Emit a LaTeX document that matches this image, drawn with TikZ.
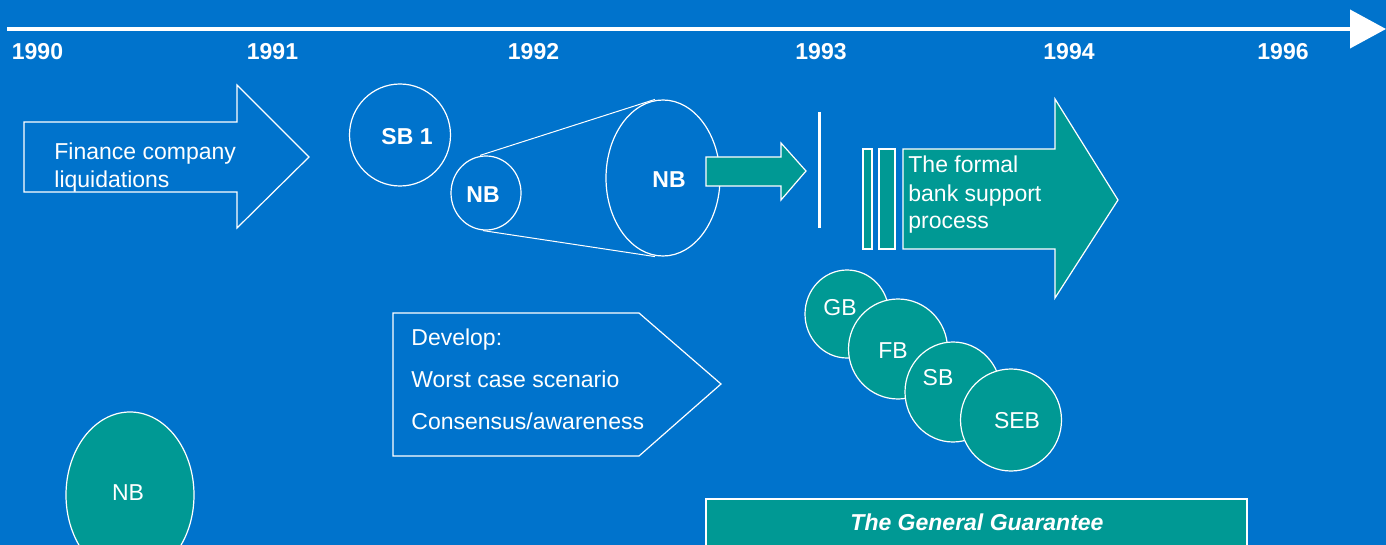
\documentclass[tikz,border=0pt]{standalone}
\usepackage{fontspec}
\setmainfont{Liberation Sans}
\usetikzlibrary{shapes.geometric,arrows.meta}
\definecolor{bgblue}{RGB}{0,115,204}
\definecolor{tealc}{RGB}{0,153,148}
\begin{document}
\begin{tikzpicture}[x=0.5pt,y=-0.5pt,
  txt/.style={text=white, inner sep=0, font=\fontsize{11.5}{14}\selectfont},
  btxt/.style={text=white, inner sep=0, font=\fontsize{11.5}{14}\selectfont\bfseries},
  year/.style={btxt},
  outl/.style={draw=white, line width=0.6pt},
  tealshape/.style={fill=tealc, draw=white, line width=0.6pt},
  oval/.style={ellipse, inner sep=0, draw=white, line width=0.6pt}]
\fill[bgblue] (0,0) rectangle (1386,545);
\useasboundingbox (0,0) rectangle (1386,545);
% timeline
\coordinate (tl0) at (7,29);
\coordinate (tl1) at (1386,29);
\draw[white, line width=2pt, -{Triangle[length=18pt,width=19pt]}] (tl0) -- (tl1);
\node[year] (y1990) at (37.5,51.5) {1990};
\node[year] (y1991) at (272.5,51.5) {1991};
\node[year] (y1992) at (533.5,51.5) {1992};
\node[year] (y1993) at (821,51.5) {1993};
\node[year] (y1994) at (1069,51.5) {1994};
\node[year] (y1996) at (1283,51.5) {1996};
% finance arrow
\draw[outl] (24,122) -- (237,122) -- (237,85) -- (309,157) -- (237,228) -- (237,192) -- (24,192) -- cycle;
\node[txt, anchor=base west] (fc1) at (54,160) {Finance company};
\node[txt, anchor=base west] (fc2) at (54,188) {liquidations};
% SB1 and NB
\node[oval, minimum width=50.5pt, minimum height=51pt] (sb1) at (400,135) {};
\node[btxt] (sb1l) at (407,137) {SB 1};
\node[oval, minimum width=35pt, minimum height=37pt] (nbs) at (486,193) {};
\node[btxt] (nbsl) at (483,195) {NB};
\node[oval, minimum width=57pt, minimum height=78pt] (nbb) at (663,178) {};
\node[btxt] (nbbl) at (669,180) {NB};
\draw[white, line width=0.5pt] ([xshift=-3pt]nbs.north) -- ([xshift=-4pt]nbb.north);
\draw[white, line width=0.5pt] ([xshift=-1.5pt]nbs.south) -- ([xshift=-4pt]nbb.south);
% small teal arrow
\filldraw[tealshape] (706,157) -- (781,157) -- (781,143) -- (806,171) -- (781,200) -- (781,186) -- (706,186) -- cycle;
% vertical line
\coordinate (v0) at (819,112);
\coordinate (v1) at (819,228);
\draw[white, line width=1.5pt] (v0) -- (v1);
% bars and big arrow
\filldraw[tealshape] (863,149) rectangle (872,249);
\filldraw[tealshape] (879,149) rectangle (895,249);
\filldraw[tealshape] (903,149) -- (1055,149) -- (1055,99) -- (1118,200) -- (1055,298) -- (1055,249) -- (903,249) -- cycle;
\node[txt, anchor=base west] (bs1) at (908,173) {The formal};
\node[txt, anchor=base west] (bs2) at (908,202) {bank support};
\node[txt, anchor=base west] (bs3) at (908,229) {process};
% bank circles
\node[oval, fill=tealc, minimum width=42pt, minimum height=44pt] (gb) at (847,314) {};
\node[txt] (gbl) at (840,308) {GB};
\node[oval, fill=tealc, minimum width=49.5pt, minimum height=50pt] (fb) at (898,349) {};
\node[txt] (fbl) at (893,351) {FB};
\node[oval, fill=tealc, minimum width=48pt, minimum height=50pt] (sb) at (953,392) {};
\node[txt] (sbl) at (938,378) {SB};
\node[oval, fill=tealc, minimum width=50.5pt, minimum height=51pt] (seb) at (1011,420) {};
\node[txt] (sebl) at (1017,421) {SEB};
% develop box
\draw[outl] (393,313) -- (639,313) -- (721,384) -- (639,456) -- (393,456) -- cycle;
\node[txt, anchor=base west] (d1) at (411,345) {Develop:};
\node[txt, anchor=base west] (d2) at (411,387) {Worst case scenario};
\node[txt, anchor=base west] (d3) at (411,429) {Consensus/awareness};
% general guarantee
\filldraw[tealshape] (706,499) rectangle (1247,570);
\node[txt, font=\fontsize{11.5}{14}\selectfont\bfseries\itshape] (gg) at (977,522) {The General Guarantee};
% bottom NB
\node[oval, fill=tealc, minimum width=64pt, minimum height=83pt] (nbbot) at (130,495) {};
\node[txt] (nbbotl) at (128,493) {NB};
\end{tikzpicture}
\end{document}
